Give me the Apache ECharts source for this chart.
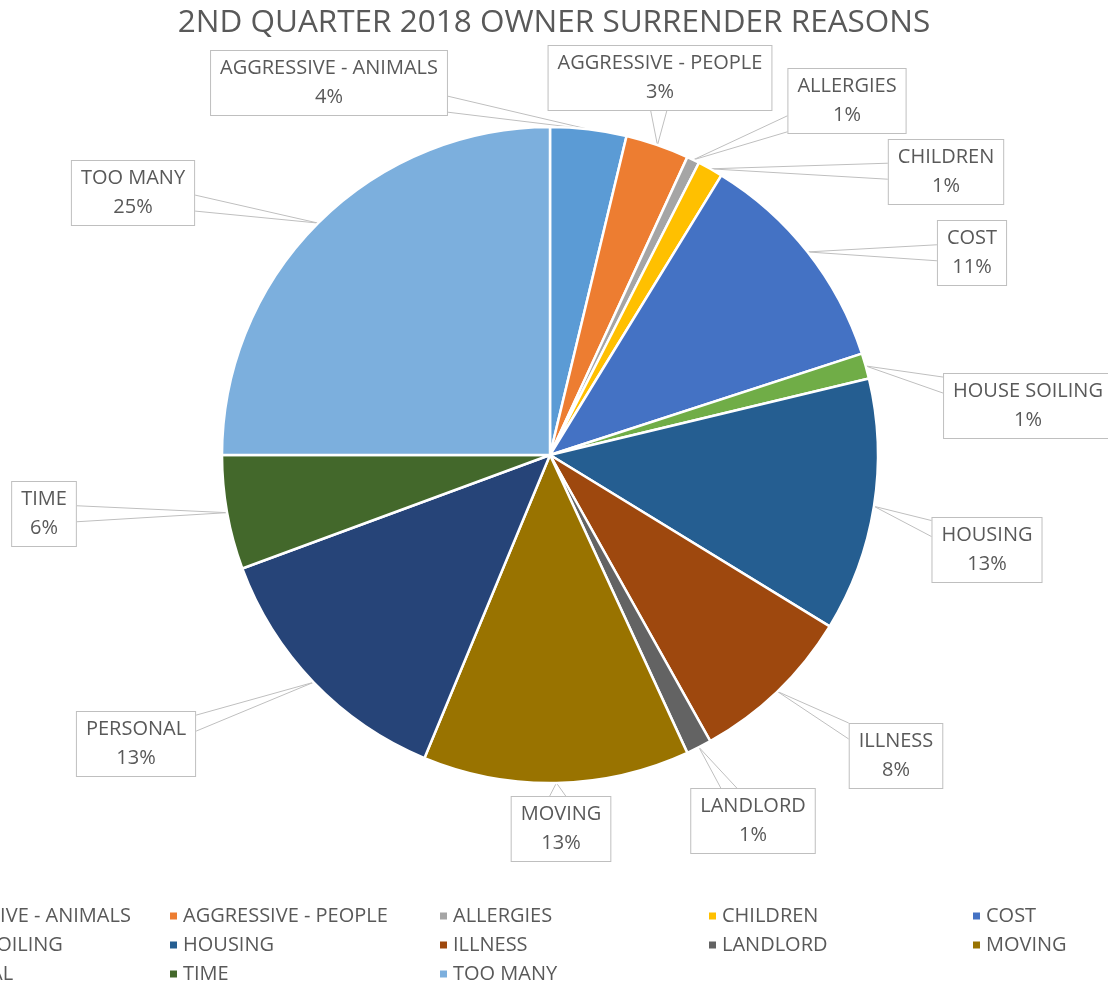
<!DOCTYPE html>
<html>
<head>
<meta charset="utf-8">
<script src="https://cdn.jsdelivr.net/npm/echarts@6/dist/echarts.min.js"></script>
<style>
  html, body { margin: 0; padding: 0; background: #fff; }
  #main { width: 1108px; height: 982px; }
</style>
</head>
<body>
<div id="main"></div>
<script>
// reasons and counts for the quarter
var reasons = ['AGGRESSIVE - ANIMALS', 'AGGRESSIVE - PEOPLE', 'ALLERGIES', 'CHILDREN', 'COST',
  'HOUSE SOILING', 'HOUSING', 'ILLNESS', 'LANDLORD', 'MOVING', 'PERSONAL', 'TIME', 'TOO MANY'];
var counts = [6, 5, 1, 2, 18, 2, 20, 13, 2, 21, 21, 9, 40];
var colors = ['#5B9BD5', '#ED7D31', '#A5A5A5', '#FFC000', '#4472C4', '#70AD47', '#255E91',
  '#9E480E', '#636363', '#997300', '#264478', '#43682B', '#7CAFDD'];

// where the callout boxes sit (centre of each box)
var labelPos = [[329, 83], [660, 78], [847, 101], [946, 172], [972, 253], [1028, 406], [987, 550],
  [896, 756], [753, 821], [561, 829], [136, 744], [44, 514], [133, 193]];
// legend grid, column by column
var legendCols = [[0, 5, 10], [1, 6, 11], [2, 7, 12], [3, 8], [4, 9]];
var legendX = [-107, 163, 433, 702, 966];

var FONT = '"Open Sans", "Noto Sans", sans-serif';
var total = counts.reduce(function (s, v) { return s + v; }, 0);

var myChart = echarts.init(document.getElementById('main'));

// two points on the side of the box that faces the slice, so the leader looks like a callout
function calloutBase(c, w, h, a) {
  var dx = a[0] - c[0], dy = a[1] - c[1];
  var hw = w / 2, hh = h / 2, k = 8;
  if (Math.abs(dx) * hh > Math.abs(dy) * hw) {
    var x = c[0] + (dx > 0 ? hw : -hw);
    var y = c[1] + dy * hw / Math.abs(dx);
    y = Math.max(c[1] - hh + k, Math.min(c[1] + hh - k, y));
    return [[x, y - k], [x, y + k]];
  }
  var yy = c[1] + (dy > 0 ? hh : -hh);
  var xx = c[0] + dx * hh / Math.abs(dy);
  xx = Math.max(c[0] - hw + k, Math.min(c[0] + hw - k, xx));
  return [[xx - k, yy], [xx + k, yy]];
}

var legends = legendCols.map(function (col, i) {
  return {
    orient: 'vertical',
    left: legendX[i],
    top: 901,
    height: 120,
    icon: 'rect',
    itemWidth: 9,
    itemHeight: 9,
    itemGap: 9,
    selectedMode: false,
    data: col.map(function (j) { return reasons[j]; }),
    textStyle: { fontFamily: FONT, fontSize: 20, color: '#595959', lineHeight: 19 }
  };
});

var option = {
  color: colors,
  animation: false,
  title: {
    text: '2ND QUARTER 2018 OWNER SURRENDER REASONS',
    left: 'center',
    top: 2,
    textStyle: { fontFamily: FONT, fontSize: 31.5, fontWeight: 'normal', color: '#595959' }
  },
  legend: legends,
  series: [
    {
      type: 'pie',
      center: [550, 455],
      radius: 328,
      startAngle: 90,
      clockwise: true,
      avoidLabelOverlap: false,
      itemStyle: { borderColor: '#fff', borderWidth: 2.5 },
      label: {
        show: true,
        position: 'outside',
        formatter: function (p) {
          return p.name + '\n' + Math.round(p.value / total * 100) + '%';
        },
        fontFamily: FONT,
        fontSize: 20,
        lineHeight: 29,
        color: '#595959',
        align: 'center',
        backgroundColor: '#fff',
        borderColor: '#bfbfbf',
        borderWidth: 1,
        padding: [3, 9]
      },
      labelLine: {
        show: true,
        smooth: false,
        minTurnAngle: 0,
        maxSurfaceAngle: 180,
        lineStyle: { color: '#bfbfbf', width: 1 }
      },
      labelLayout: function (p) {
        var c = labelPos[p.dataIndex];
        var a = p.labelLinePoints ? [p.labelLinePoints[0][0], p.labelLinePoints[0][1]] : [c[0], c[1]];
        var base = calloutBase(c, p.labelRect.width, p.labelRect.height, a);
        return {
          x: c[0],
          y: c[1],
          align: 'center',
          verticalAlign: 'middle',
          labelLinePoints: [base[0], a, base[1]]
        };
      },
      data: reasons.map(function (r, i) { return { name: r, value: counts[i] }; })
    }
  ]
};

myChart.setOption(option);
</script>
</body>
</html>
